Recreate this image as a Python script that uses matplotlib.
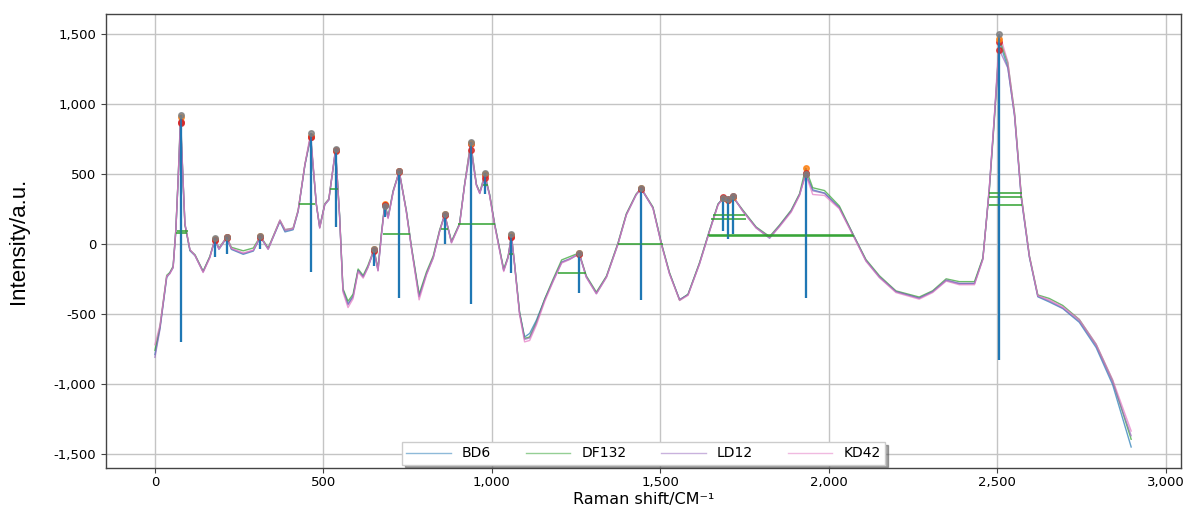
import numpy as np
import matplotlib
matplotlib.use("Agg")
import matplotlib.pyplot as plt
from matplotlib.ticker import FuncFormatter, MultipleLocator

# ---------------- data ----------------
raman_shift = [0, 15, 35, 44, 54, 62, 69, 76, 83, 89, 104, 119, 143, 163, 178, 190, 213, 227, 262, 292,
               313, 336, 371, 386, 410, 425, 445, 462, 479, 489, 504, 516, 536, 548, 558, 573, 588, 603,
               618, 632, 650, 662, 672, 682, 692, 707, 725, 746, 761, 784, 806, 826, 845, 860, 880, 904,
               919, 937, 954, 964, 979, 993, 1008, 1035, 1048, 1058, 1067, 1082, 1097, 1112, 1132, 1157,
               1182, 1207, 1231, 1259, 1280, 1310, 1340, 1374, 1399, 1428, 1443, 1478, 1503, 1527, 1557,
               1582, 1616, 1646, 1671, 1687, 1700, 1715, 1745, 1784, 1824, 1853, 1888, 1913, 1931, 1952,
               1987, 2031, 2071, 2110, 2150, 2199, 2268, 2308, 2348, 2387, 2432, 2457, 2476, 2491, 2506,
               2531, 2551, 2571, 2595, 2620, 2654, 2694, 2743, 2793, 2842, 2897]

bd6 = [-790, -600, -240, -210, -170, 90, 460, 865, 470, 135, -50, -85, -200, -95, 28, -40, 42, -40, -75, -52,
       48, -38, 160, 85, 100, 230, 560, 760, 280, 115, 278, 312, 665, 200, -330, -430, -375, -190,
       -236, -168, -48, -190, 60, 275, 185, 372, 512, 232, -25, -375, -215, -98, 90, 205, 10, 138,
       420, 712, 420, 360, 488, 350, 138, -190, -98, 52, -142, -490, -665, -640, -545, -395,
       -262, -132, -110, -72, -236, -355, -236, -2, 208, 350, 392, 255, -2, -212, -400,
       -362, -142, 92, 280, 330, 318, 336, 232, 115, 40, 125, 232, 350, 500, 385,
       362, 258, 68, -120, -238, -342, -388, -342, -262, -285, -284, -105, 395, 905, 1440,
       1260, 910, 325, -96, -378, -415, -462, -560, -740, -1005, -1450]

df132 = [-760, -590, -225, -205, -160, 100, 470, 905, 480, 140, -45, -78, -195, -90, 35, -30, 48, -25, -50, -30,
         55, -30, 168, 100, 112, 240, 565, 768, 282, 120, 285, 320, 670, 205, -320, -410, -360, -180,
         -226, -155, -40, -175, 75, 285, 195, 380, 518, 240, -15, -360, -200, -85, 100, 210, 18, 145,
         425, 720, 425, 368, 496, 356, 145, -182, -90, 60, -135, -485, -675, -665, -560, -392,
         -250, -115, -92, -65, -228, -345, -230, 5, 215, 355, 398, 262, 5, -205, -402,
         -360, -135, 98, 285, 325, 316, 335, 240, 120, 52, 132, 240, 358, 540, 400,
         380, 270, 72, -112, -228, -336, -380, -335, -250, -270, -270, -100, 380, 880, 1465,
         1290, 935, 345, -85, -365, -390, -440, -540, -718, -975, -1395]

ld12 = [-810, -610, -235, -212, -166, 95, 468, 870, 478, 142, -44, -82, -200, -94, 30, -35, 46, -36, -70, -48,
        50, -36, 163, 92, 105, 234, 562, 762, 282, 118, 282, 316, 668, 200, -330, -435, -378, -190,
        -235, -165, -46, -188, 62, 278, 188, 375, 516, 235, -22, -378, -212, -95, 94, 207, 12, 141,
        422, 668, 420, 362, 470, 352, 141, -190, -95, 48, -140, -495, -682, -672, -565, -400,
        -258, -130, -106, -70, -234, -352, -235, 0, 210, 352, 394, 258, 0, -211, -398,
        -364, -140, 94, 281, 333, 315, 338, 235, 117, 47, 128, 235, 352, 505, 378,
        360, 256, 70, -118, -235, -340, -387, -340, -258, -282, -282, -108, 390, 900, 1383,
        1255, 915, 330, -92, -374, -408, -458, -552, -728, -988, -1370]

kd42 = [-720, -580, -230, -215, -170, 92, 465, 918, 485, 145, -42, -84, -205, -100, 40, -38, 50, -32, -65, -45,
        54, -40, 170, 102, 110, 236, 566, 790, 285, 110, 280, 314, 680, 195, -345, -455, -392, -200,
        -245, -172, -35, -195, 58, 272, 180, 368, 520, 228, -30, -400, -222, -102, 88, 212, 5, 135,
        418, 727, 418, 358, 504, 345, 132, -198, -100, 70, -148, -505, -700, -690, -580, -410,
        -268, -138, -112, -68, -240, -358, -240, -5, 205, 348, 400, 252, -5, -216, -405,
        -368, -146, 88, 276, 328, 320, 342, 230, 112, 42, 120, 225, 345, 497, 352,
        345, 250, 62, -125, -242, -348, -395, -348, -266, -292, -292, -112, 400, 910, 1500,
        1300, 925, 338, -88, -370, -400, -450, -540, -715, -970, -1336]

series_names = ["BD6", "DF132", "LD12", "KD42"]

# detected peaks (positions on the Raman-shift grid) and their prominence bases
peak_shift = [76, 178, 213, 313, 462, 536, 650, 682, 725, 860, 937, 979, 1058, 1259, 1443,
              1687, 1700, 1715, 1931, 2506]
peak_base = [-703, -94, -70, -40, -199, 117, -160, 190, -387, 0, -433, 352, -211, -352, -400,
             94, 35, 70, -387, -832]

# peak widths (height, left, right)
width_height = [90, 80, 281, 392, 70, 105, 141, 420, -75, -211, 0, 207, 176, 65, 55, 364, 333, 277]
width_left = [66, 64, 427, 519, 676, 850, 900, 975, 1050, 1196, 1374, 1656, 1651, 1641, 1645, 2476, 2476, 2476]
width_right = [98, 96, 476, 544, 756, 870, 1008, 989, 1062, 1280, 1507, 1750, 1755, 2071, 2075, 2573, 2573, 2573]

# ---------------- plot ----------------
line_colors = ["C0", "C2", "C4", "C6"]
marker_colors = ["C3", "C1", "C3", "C7"]

fig = plt.figure(figsize=(11.89, 5.08), dpi=100)
ax = fig.add_axes([0.0892, 40 / 508, 0.9041, 454 / 508])

xs = np.array(raman_shift)
all_series = [bd6, df132, ld12, kd42]
pidx = np.searchsorted(xs, peak_shift)

for name, ys, lc in zip(series_names, all_series, line_colors):
    ax.plot(xs, ys, color=lc, lw=1.0, alpha=0.7, label=name)

for ys, mc in zip(all_series, marker_colors):
    ys = np.array(ys)
    ax.vlines(x=xs[pidx], ymin=peak_base, ymax=ys[pidx], color="C0", lw=1.5, alpha=0.8)
    ax.hlines(y=width_height, xmin=width_left, xmax=width_right, color="C2", lw=1.2, alpha=0.35)
    ax.plot(xs[pidx], ys[pidx], "o", color=mc, ms=4, alpha=0.8)

ax.set_xlim(-145, 3045)
ax.set_ylim(-1600, 1640)
ax.xaxis.set_major_locator(MultipleLocator(500))
ax.yaxis.set_major_locator(MultipleLocator(500))
fmt = FuncFormatter(lambda v, p: f"{v:,.0f}")
ax.xaxis.set_major_formatter(fmt)
ax.yaxis.set_major_formatter(fmt)
ax.tick_params(labelsize=9.5, length=3.5, color="#444444")
ax.tick_params(axis="x", pad=2)
ax.grid(True, color="#c4c4c4", lw=1)
ax.set_axisbelow(True)
for s in ax.spines.values():
    s.set_color("#444444")
    s.set_linewidth(1)

ax.set_xlabel("Raman shift/CM\u207b\u00b9", fontsize=11.5)
ax.xaxis.label.set_va("bottom")
ax.xaxis.set_label_coords(0.5, -39.0 / 454)
ax.set_ylabel("Intensity/a.u.", fontsize=16,
              family=["Liberation Sans Narrow", "DejaVu Sans Condensed", "Liberation Sans"])
ax.yaxis.set_label_coords(-0.072, 0.5)

leg = ax.legend(loc="lower center", ncol=4, shadow=True, fontsize=10, handlelength=3.2,
                columnspacing=2.5, borderaxespad=0.25, fancybox=False, framealpha=1,
                borderpad=0.3, bbox_to_anchor=(0.5, 0.0))
for h in leg.get_lines():
    h.set_alpha(0.5)
    h.set_linewidth(1)

fig.savefig("out.png", dpi=100)
